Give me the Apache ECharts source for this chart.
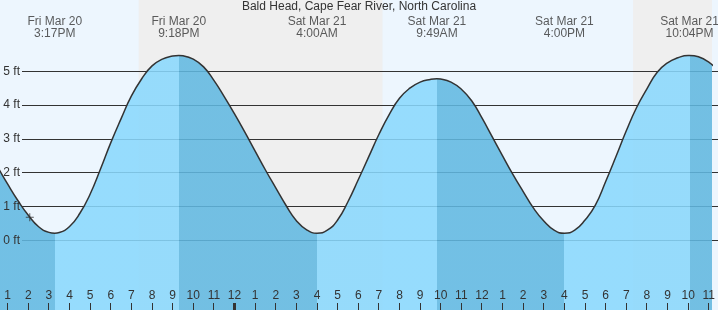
<!DOCTYPE html>
<html>
<head>
<meta charset="utf-8">
<script src="https://cdn.jsdelivr.net/npm/echarts@6/dist/echarts.min.js"></script>
<style>
html, body { margin: 0; padding: 0; background: #edf6fe; }
#tide { width: 718px; height: 310px; }
</style>
</head>
<body>
<div id="tide"></div>
<script>
// hours are counted from Sat Mar 21 00:00
var tideHours = [-12, -11.5, -11, -10.5, -10, -9.5, -9, -8.717,
  -8.5, -8, -7.5, -7, -6.5, -6, -5.5, -5, -4.5, -4, -3.5, -3, -2.7,
  -2.5, -2, -1.5, -1, -0.5, 0, 0.5, 1, 1.5, 2, 2.5, 3, 3.5, 4,
  4.5, 5, 5.5, 6, 6.5, 7, 7.5, 8, 8.5, 9, 9.5, 9.817,
  10, 10.5, 11, 11.5, 12, 12.5, 13, 13.5, 14, 14.5, 15, 15.5, 16,
  16.5, 17, 17.5, 18, 18.5, 19, 19.5, 20, 20.5, 21, 21.5, 22, 22.067,
  22.5, 23, 23.5, 24];
var tideFeet = [2.70, 2.18, 1.66, 1.17, 0.74, 0.40, 0.235, 0.21,
  0.23, 0.41, 0.80, 1.37, 2.11, 2.89, 3.60, 4.27, 4.78, 5.16, 5.36, 5.45, 5.47,
  5.46, 5.36, 5.13, 4.73, 4.25, 3.74, 3.20, 2.64, 2.08, 1.55, 1.03, 0.58, 0.31, 0.21,
  0.30, 0.60, 1.14, 1.79, 2.46, 3.13, 3.72, 4.20, 4.50, 4.68, 4.76, 4.78,
  4.77, 4.68, 4.47, 4.13, 3.62, 3.06, 2.50, 1.95, 1.44, 0.95, 0.57, 0.30, 0.21,
  0.30, 0.60, 1.04, 1.74, 2.48, 3.24, 3.93, 4.48, 4.97, 5.25, 5.40, 5.47, 5.47,
  5.43, 5.27, 4.99, 4.60];

var extremeHours = [-8.717, -2.7, 4.0, 9.817, 16.0, 22.067];
var extremeKinds = ['low', 'high', 'low', 'high', 'low', 'high'];
var extremeLabels = ['Fri Mar 20\n3:17PM', 'Fri Mar 20\n9:18PM', 'Sat Mar 21\n4:00AM',
  'Sat Mar 21\n9:49AM', 'Sat Mar 21\n4:00PM', 'Sat Mar 21\n10:04PM'];

var nights = [[-4.647, 7.175], [19.33, 24]];

var hourTicks = [-11, -10, -9, -8, -7, -6, -5, -4, -3, -2, -1, 0, 1, 2, 3, 4, 5, 6,
  7, 8, 9, 10, 11, 12, 13, 14, 15, 16, 17, 18, 19, 20, 21, 22, 23];

var nowHour = -9.93;
var nowFeet = 0.68;

var xMin = -11.374, xMax = 23.128;
var yMin = -2.062, yMax = 7.109;
var labelFt = 6.28;
var tickLen = 7;
var font = 'Liberation Sans, Arial, sans-serif';
var ebbColor = 'rgb(96,184,225)';
var floodColor = 'rgb(137,216,253)';

var tideData = tideHours.map(function (h, i) { return [h, tideFeet[i]]; });

// dark water while falling, light while rising
var pieces = [];
for (var i = 0; i <= extremeHours.length; i++) {
  var p = {};
  if (i > 0) p.gte = extremeHours[i - 1];
  if (i < extremeHours.length) p.lt = extremeHours[i];
  var nextKind = i < extremeKinds.length ? extremeKinds[i] : (extremeKinds[i - 1] === 'high' ? 'low' : 'high');
  p.color = nextKind === 'low' ? ebbColor : floodColor;
  pieces.push(p);
}

var option = {
  animation: false,
  backgroundColor: '#edf6fe',
  textStyle: { fontFamily: font },
  title: {
    text: 'Bald Head, Cape Fear River, North Carolina',
    left: 'center',
    top: 0,
    padding: [1, 0, 0, 0],
    textStyle: { fontSize: 12, fontWeight: 'normal', color: '#333', fontFamily: font }
  },
  grid: [
    { left: 0, right: 0, top: 0, bottom: 0 },
    { left: 22, right: 0, top: 71.3, bottom: 69.7 },
    { left: 22, right: 0, top: 71.3, bottom: 69.7 }
  ],
  visualMap: [{
    type: 'piecewise',
    show: false,
    dimension: 0,
    seriesIndex: 1,
    pieces: pieces
  }],
  xAxis: [
    {
      gridIndex: 0, type: 'value', min: xMin, max: xMax, position: 'bottom', z: 10,
      axisLine: { show: false, onZero: false },
      splitLine: { show: false },
      axisTick: { show: false },
      axisLabel: {
        inside: true, margin: 8, customValues: hourTicks, color: '#333', fontSize: 12,
        formatter: function (v) { return String(((v % 12) + 12) % 12 || 12); }
      }
    },
    { gridIndex: 1, type: 'value', min: xMin, max: xMax, show: false },
    { gridIndex: 2, type: 'value', min: xMin, max: xMax, show: false }
  ],
  yAxis: [
    { gridIndex: 0, type: 'value', min: yMin, max: yMax, show: false },
    {
      gridIndex: 1, type: 'value', min: 0, max: 5, interval: 1, z: 2,
      axisLine: { show: false }, axisTick: { show: false }, axisLabel: { show: false },
      splitLine: { show: true, lineStyle: { color: '#333', width: 1 } }
    },
    {
      gridIndex: 2, type: 'value', min: 0, max: 5, interval: 1, z: 10,
      axisLine: { show: false }, axisTick: { show: false }, splitLine: { show: false },
      axisLabel: { formatter: '{value} ft', margin: 2, color: '#333', fontSize: 12 }
    }
  ],
  series: [
    {
      type: 'custom',
      z: 1,
      silent: true,
      clip: true,
      data: nights,
      renderItem: function (params, api) {
        var p0 = api.coord([api.value(0), yMax]);
        var p1 = api.coord([api.value(1), yMin]);
        return {
          type: 'rect',
          shape: { x: p0[0], y: p0[1], width: p1[0] - p0[0], height: p1[1] - p0[1] },
          style: { fill: '#efefef' }
        };
      }
    },
    {
      type: 'line',
      z: 3,
      silent: true,
      data: tideData,
      smooth: 0.5,
      showSymbol: false,
      lineStyle: { width: 0, opacity: 0 },
      areaStyle: { opacity: 0.87, origin: 'start' }
    },
    {
      type: 'line',
      z: 4,
      silent: true,
      data: tideData,
      smooth: 0.5,
      showSymbol: false,
      lineStyle: { color: '#333', width: 1.5 }
    },
    {
      type: 'scatter',
      z: 5,
      silent: true,
      symbolSize: 1,
      itemStyle: { color: 'transparent' },
      data: extremeHours.map(function (h, i) {
        return { value: [h, labelFt], name: extremeLabels[i] };
      }),
      label: {
        show: true, position: 'inside', formatter: '{b}',
        color: '#333', fontSize: 12, lineHeight: 12, fontFamily: font
      }
    },
    {
      type: 'scatter',
      z: 5,
      silent: true,
      symbol: 'path://M0,3.5H8V4.5H0Z M3.5,0H4.5V8H3.5Z',
      symbolSize: 8,
      itemStyle: { color: '#333' },
      data: [[nowHour, nowFeet]]
    },
    {
      // hour ticks along the bottom edge, midnight drawn heavier
      type: 'custom',
      z: 10,
      silent: true,
      data: hourTicks.map(function (h) { return [h, yMin]; }),
      renderItem: function (params, api) {
        var h = api.value(0);
        var pt = api.coord([h, yMin]);
        var w = h === 0 ? 3 : 1;
        return {
          type: 'rect',
          shape: { x: Math.round(pt[0] - w / 2), y: pt[1] - tickLen, width: w, height: tickLen },
          style: { fill: '#333' }
        };
      }
    }
  ]
};

var chart = echarts.init(document.getElementById('tide'));
chart.setOption(option);
</script>
</body>
</html>
